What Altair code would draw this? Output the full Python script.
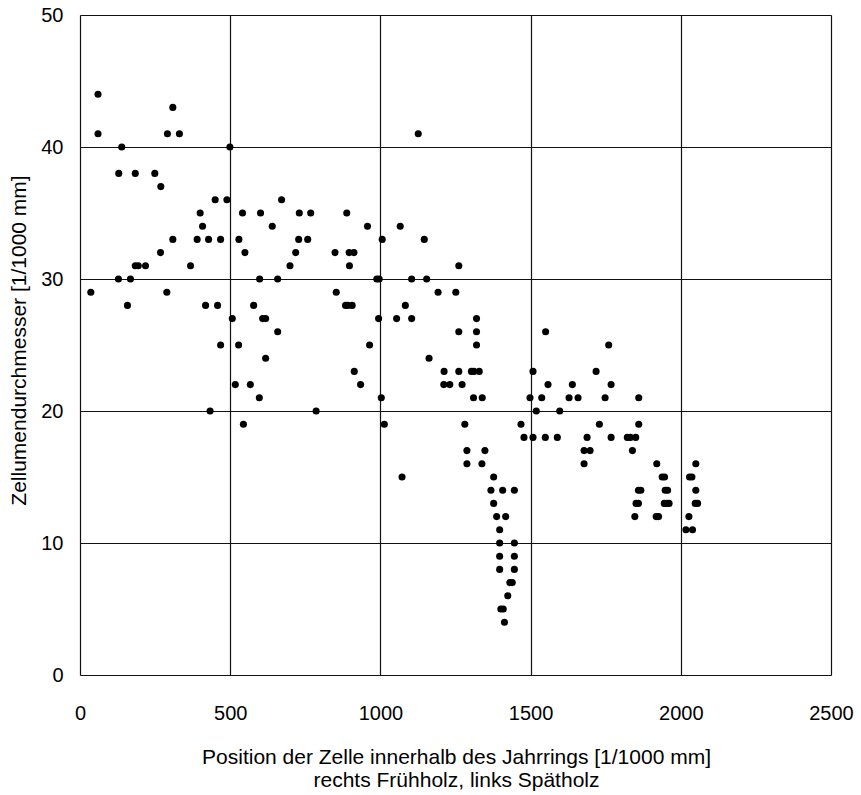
import altair as alt
import pandas as pd

# Position der Zelle [1/1000 mm] und Zellumendurchmesser [1/1000 mm]
position = [
    60, 309,
    60, 291, 331, 1126,
    139, 499,
    129, 184, 249,
    269,
    450, 489, 671,
    400, 541, 601, 730, 768, 888,
    408, 640, 957, 1066,
    309, 390, 428, 468, 529, 728, 758, 1006, 1146,
    268, 549, 718, 849, 896, 912,
    184, 194, 218, 368, 699, 897, 1261,
    128, 168, 598, 658, 988, 996, 1104, 1154,
    36, 289, 853, 1192, 1251,
    158, 418, 458, 578, 884, 892, 906, 1083,
    507, 608, 618, 994, 1054, 1104, 1320,
    658, 1261, 1320, 1550,
    468, 528, 964, 1320, 1760,
    618, 1162,
    913, 1212, 1261, 1303, 1311, 1329, 1508, 1718,
    517, 567, 934, 1211, 1231, 1272, 1558, 1639, 1768,
    597, 1003, 1310, 1339, 1498, 1537, 1628, 1658, 1748, 1860,
    433, 786, 1519, 1597,
    544, 1013, 1281, 1468, 1729, 1860,
    1478, 1508, 1549, 1589, 1688, 1768, 1822, 1832, 1850,
    1288, 1348, 1678, 1698, 1839,
    1288, 1338, 1678, 1920, 2050,
    1072, 1377, 1938, 1946, 2029, 2037,
    1368, 1407, 1446, 1859, 1867, 1948, 1956, 2050,
    1377, 1851, 1859, 1945, 1953, 1961, 2048, 2056,
    1387, 1417, 1847, 1918, 1926, 2027,
    1397, 2017, 2039,
    1397, 1446,
    1397, 1446,
    1397, 1446,
    1431, 1439,
    1424,
    1401, 1409,
    1413,
]

diameter = (
    [44, 43]
    + [41] * 4
    + [40] * 2
    + [38] * 3
    + [37]
    + [36] * 3
    + [35] * 6
    + [34] * 4
    + [33] * 9
    + [32] * 6
    + [31] * 7
    + [30] * 8
    + [29] * 5
    + [28] * 8
    + [27] * 7
    + [26] * 4
    + [25] * 5
    + [24] * 2
    + [23] * 8
    + [22] * 9
    + [21] * 10
    + [20] * 4
    + [19] * 6
    + [18] * 9
    + [17] * 5
    + [16] * 5
    + [15] * 6
    + [14] * 8
    + [13] * 8
    + [12] * 6
    + [11] * 3
    + [10] * 2
    + [9] * 2
    + [8] * 2
    + [7] * 2
    + [6]
    + [5] * 2
    + [4]
)

x_ticks = [0, 500, 1000, 1500, 2000, 2500]
y_ticks = [0, 10, 20, 30, 40, 50]

df = pd.DataFrame({"position": position, "diameter": diameter})

FONT = "Liberation Sans"

chart = (
    alt.Chart(df)
    .mark_circle(size=50, color="black", opacity=1)
    .encode(
        x=alt.X(
            "position:Q",
            scale=alt.Scale(domain=[0, 2500], nice=False, zero=False),
            axis=alt.Axis(
                values=x_ticks,
                format="d",
                title=[
                    "Position der Zelle innerhalb des Jahrrings [1/1000 mm]",
                    "rechts Frühholz, links Spätholz",
                ],
                grid=True,
                gridColor="#111111",
                gridWidth=1.2,
                gridOpacity=1,
                domain=False,
                ticks=False,
                tickSize=0,
                labelFont=FONT,
                labelFontSize=20,
                labelColor="black",
                labelBaseline="alphabetic",
                labelPadding=44,
                labelFlush=False,
                titleFont=FONT,
                titleFontSize=21,
                titleFontWeight="normal",
                titleColor="black",
                titleBaseline="alphabetic",
                titleLineHeight=23,
                titleY=88,
                titleX=376,
                titleAlign="center",
            ),
        ),
        y=alt.Y(
            "diameter:Q",
            scale=alt.Scale(domain=[0, 50], nice=False, zero=False),
            axis=alt.Axis(
                values=y_ticks,
                format="d",
                title="Zellumendurchmesser [1/1000 mm]",
                grid=True,
                gridColor="#111111",
                gridWidth=1.2,
                gridOpacity=1,
                domain=False,
                ticks=False,
                tickSize=0,
                labelFont=FONT,
                labelFontSize=20,
                labelColor="black",
                labelAlign="right",
                labelBaseline="middle",
                labelPadding=17,
                labelFlush=False,
                titleFont=FONT,
                titleFontSize=21,
                titleFontWeight="normal",
                titleColor="black",
                titleAngle=270,
                titleAlign="center",
                titleBaseline="alphabetic",
                titleX=-55,
                titleY=325,
            ),
        ),
    )
    .properties(
        width=751,
        height=660,
        autosize=alt.AutoSizeParams(type="none"),
        padding={"left": 80, "top": 15, "right": 30, "bottom": 120},
    )
    .configure_view(stroke="black", strokeWidth=2)
    .configure(background="white")
)

chart.save("out.html", embed_options={"renderer": "svg", "actions": False})
